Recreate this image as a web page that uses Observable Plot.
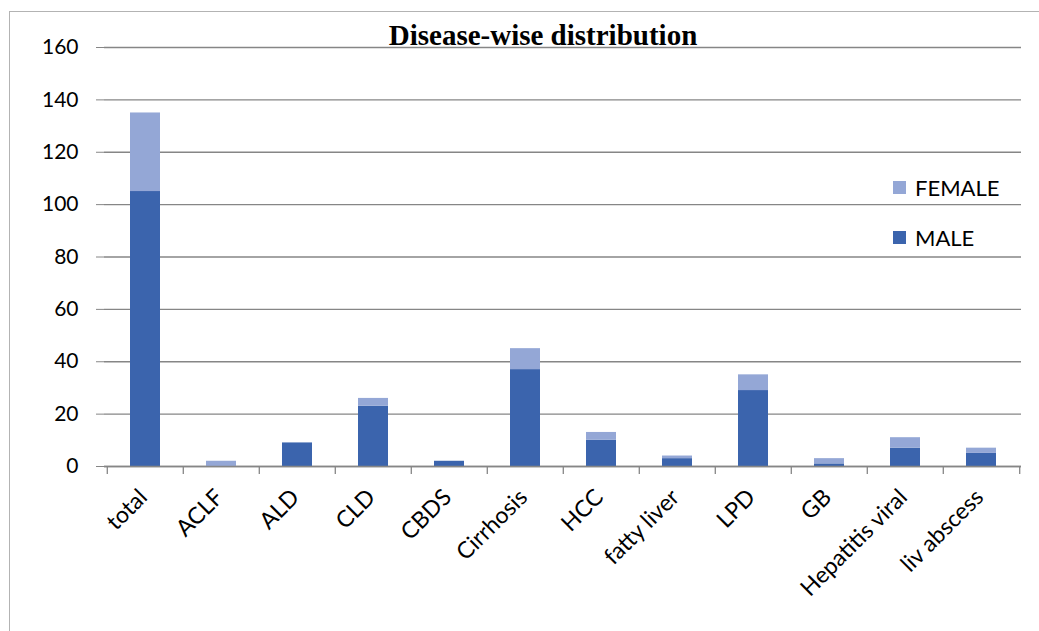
<!DOCTYPE html>
<html>
<head>
<meta charset="utf-8">
<script src="https://cdn.jsdelivr.net/npm/d3@7"></script>
<script src="https://cdn.jsdelivr.net/npm/@observablehq/plot@0.6"></script>
<style>
  html, body { margin: 0; padding: 0; background: #fff; }
  #wrap { position: relative; width: 1039px; height: 631px; overflow: hidden; }
  #frame { position: absolute; left: 9px; top: 11px; width: 1100px; height: 700px; border: 1.5px solid #b3b3b3; box-sizing: border-box; }
  #chart { position: absolute; left: 0; top: 0; }
  .leg { position: absolute; left: 893px; font-family: Lato, "Open Sans", sans-serif; font-size: 22px; color: #000; display: flex; align-items: center; }
  .sw { width: 13px; height: 13px; margin-right: 9px; display: inline-block; }
</style>
</head>
<body>
<div id="wrap">
  <div id="frame"></div>
  <div id="chart"></div>
  <div class="leg" style="top:174px"><span class="sw" style="background:#94a7d6"></span>FEMALE</div>
  <div class="leg" style="top:224px"><span class="sw" style="background:#3b64ad"></span>MALE</div>
</div>
<script>
const categories = ["total", "ACLF", "ALD", "CLD", "CBDS", "Cirrhosis", "HCC", "fatty liver", "LPD", "GB", "Hepatitis viral", "liv abscess"];
const male   = [105, 0, 9, 23, 2, 37, 10, 3, 29, 1, 7, 5];
const female = [30, 2, 0, 3, 0, 8, 3, 1, 6, 2, 4, 2];
const yTicks = [0, 20, 40, 60, 80, 100, 120, 140, 160];
const seriesNames = ["MALE", "FEMALE"];
const seriesColors = ["#3b64ad", "#94a7d6"];

const data = [];
categories.forEach((c, i) => {
  data.push({cat: c, sex: "MALE", value: male[i]});
  data.push({cat: c, sex: "FEMALE", value: female[i]});
});

const W = 1039, H = 631;
const mL = 104, mR = 18, mT = 47, mB = 165;
const step = (W - mL - mR) / categories.length;

const plot = Plot.plot({
  width: W,
  height: H,
  marginLeft: mL,
  marginRight: mR,
  marginTop: mT,
  marginBottom: mB,
  style: {background: "transparent", fontFamily: "Lato, 'Open Sans', sans-serif"},
  x: {domain: categories, paddingInner: 0.61, paddingOuter: 0.305, label: null},
  y: {domain: [0, 160], label: null},
  color: {domain: seriesNames, range: seriesColors},
  marks: [
    Plot.gridY(yTicks, {stroke: "#868686", strokeOpacity: 1, strokeWidth: 1.3}),
    Plot.axisY({ticks: yTicks, tickSize: 8, tickPadding: 18, stroke: "#868686", fontSize: 21, fill: "#000"}),
    Plot.barY(data, Plot.stackY({x: "cat", y: "value", fill: "sex", order: seriesNames, inset: 0})),
    Plot.ruleX([0], {frameAnchor: "left", stroke: "#868686", strokeWidth: 1.3}),
    Plot.ruleY([0], {stroke: "#868686", strokeWidth: 1.5}),
    Plot.ruleX(categories, {x: d => d, dx: -step / 2, y1: 0, y2: -3.1, stroke: "#868686", strokeWidth: 1.3}),
    Plot.ruleX([categories[categories.length - 1]], {x: d => d, dx: step / 2, y1: 0, y2: -3.1, stroke: "#868686", strokeWidth: 1.3}),
    Plot.axisX({tickSize: 0, tickRotate: -45, tickPadding: 27, fontSize: 23, fill: "#000", dx: -2, label: null}),
    Plot.text(["Disease-wise distribution"], {frameAnchor: "top", dx: -20, dy: -3, fontFamily: "'Liberation Serif', 'Times New Roman', serif", fontWeight: "bold", fontSize: 29, fill: "#000", textAnchor: "middle", lineAnchor: "bottom"})
  ]
});
document.getElementById("chart").appendChild(plot);
</script>
</body>
</html>
